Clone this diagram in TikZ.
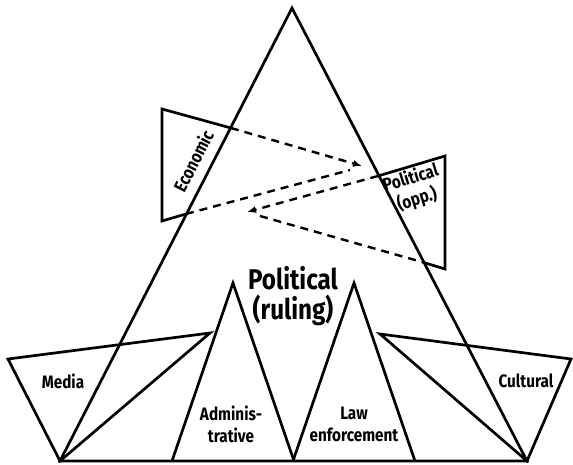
\documentclass[tikz,border=0pt]{standalone}
\usepackage{fontspec}
\setmainfont{Fira Sans}[FakeStretch=0.85]
\usetikzlibrary{arrows.meta}
\begin{document}
\begin{tikzpicture}
[x=1pt,y=-1pt,
 edge/.style={line width=2.7pt},
 influence/.style={line width=2.4pt,dash pattern=on 8pt off 6pt},
 influencetip/.style={influence,-{Latex[length=9pt,width=7pt]}},
 sectorlabel/.style={font=\bfseries\fontsize{18}{22}\selectfont,align=center,inner sep=0pt},
 rulinglabel/.style={font=\bfseries\fontsize{28.5}{30}\selectfont,align=center,inner sep=0pt}]
\useasboundingbox (0,0) rectangle (573,464);
%% the ruling pyramid
\coordinate (apex) at (292,8);
\coordinate (baseL) at (60,461);
\coordinate (baseR) at (527,461);
\draw[edge] (baseL) -- (apex) -- (baseR) -- cycle;
%% the four sectors standing on the base
\coordinate (mediaL) at (8,359);
\coordinate (mediaR) at (210,333);
\draw[edge] (baseL) -- (mediaL) -- (mediaR) -- cycle;
\coordinate (adminTop) at (233,283);
\coordinate (adminL) at (172,461);
\coordinate (adminR) at (294,461);
\draw[edge] (adminL) -- (adminTop) -- (adminR);
\coordinate (lawTop) at (354,283);
\coordinate (lawL) at (293,461);
\coordinate (lawR) at (415,461);
\draw[edge] (lawL) -- (lawTop) -- (lawR);
\coordinate (cultL) at (380,334);
\coordinate (cultR) at (571,359);
\draw[edge] (baseR) -- (cultL) -- (cultR) -- cycle;
%% the two side powers
\coordinate (ecoA) at (162,109);
\coordinate (ecoTop) at (231,128);
\coordinate (ecoBot) at (186,214);
\coordinate (ecoB) at (162,221);
\draw[edge] (ecoTop) -- (ecoA) -- (ecoB) -- (ecoBot);
\coordinate (oppTop) at (378,176);
\coordinate (oppA) at (445,156);
\coordinate (oppB) at (445,269);
\coordinate (oppBot) at (422,262);
\draw[edge] (oppTop) -- (oppA) -- (oppB) -- (oppBot);
%% who pulls on whom
\coordinate (toOpp) at (362,166);
\coordinate (toOppEnd) at (350,170);
\coordinate (toEco) at (247,212);
\coordinate (toEcoEnd) at (260,216);
\draw[influencetip] (ecoTop) -- (toOpp);
\draw[influence] (ecoBot) -- (toOppEnd);
\draw[influencetip] (oppTop) -- (toEco);
\draw[influence] (toEcoEnd) -- (oppBot);
%% labels
\node[rulinglabel] (ruling) at (293,296) {Political\\(ruling)};
\node[sectorlabel] (media) at (63,381) {Media};
\node[sectorlabel] (admin) at (231,424) {Adminis-\\trative};
\node[sectorlabel] (law) at (354,424) {Law\\enforcement};
\node[sectorlabel] (cultural) at (526,381) {Cultural};
\node[sectorlabel,rotate=63] (economic) at (193,161) {Economic};
\node[sectorlabel,rotate=17] (opposition) at (414,189) {Political\\(opp.)};
\end{tikzpicture}
\end{document}
